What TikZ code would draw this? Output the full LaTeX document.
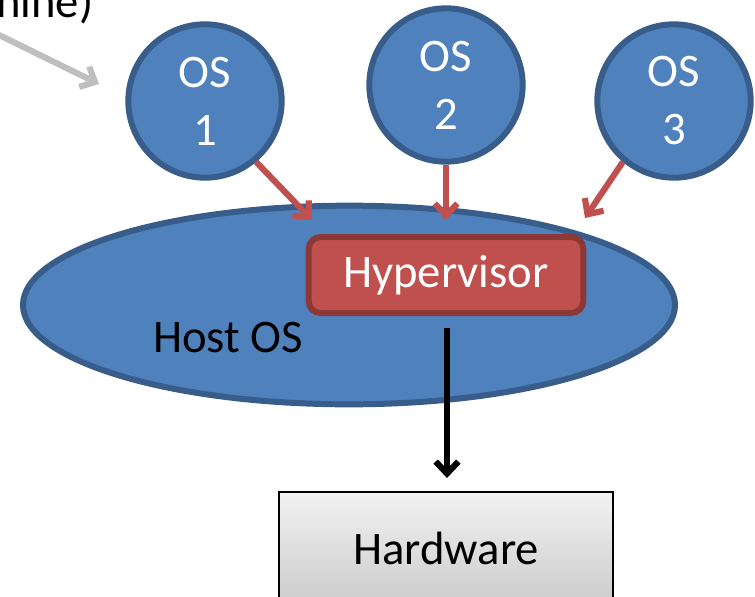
\documentclass[tikz,border=0pt]{standalone}
\usepackage{fontspec}
\setmainfont{Carlito}
\usetikzlibrary{arrows.meta,shapes.geometric}
\definecolor{osfill}{HTML}{4F81BD}
\definecolor{osdraw}{HTML}{385D8A}
\definecolor{hvfill}{HTML}{C0504D}
\definecolor{hvdraw}{HTML}{8C3836}
\definecolor{grayarr}{HTML}{BFBFBF}
\definecolor{hwtop}{HTML}{F2F2F2}
\definecolor{hwbot}{HTML}{BFBFBF}
\tikzset{
  big/.style={font=\fontsize{35}{43.5}\selectfont},
  osnode/.style={circle, fill=osfill, draw=osdraw, line width=4.5pt, minimum size=115pt, inner sep=0pt, text=white, align=center, big},
  tipbarb/.style={-{Straight Barb[length=9pt,width=17pt,line width=4.6pt]}},
  redarrow/.style={draw=hvfill, line width=4.6pt, tipbarb},
  blackarrow/.style={draw=black, line width=4.6pt, tipbarb},
  grayarrow/.style={draw=grayarr, line width=4.6pt, tipbarb},
}
\begin{document}
\begin{tikzpicture}[x=0.75pt,y=-0.75pt]
\useasboundingbox (0,0) rectangle (755,596);
\clip (0,0) rectangle (755,596);
% host OS ellipse
\node (host) [ellipse, fill=osfill, draw=osdraw, line width=4.5pt, minimum width=489pt, minimum height=149pt, inner sep=0pt] at (349,305) {};
\node (hostlabel) [big, text=black] at (228,338) {Host OS};
% hypervisor
\node (hyp) [rectangle, rounded corners=9pt, fill=hvfill, draw=hvdraw, line width=4.5pt, minimum width=206pt, minimum height=57pt, text=white, big] at (446,275) {Hypervisor};
% OS circles
\node (os1) [osnode] at (205,101) {OS\\1};
\node (os2) [osnode] at (446,85) {OS\\2};
\node (os3) [osnode] at (674,101) {OS\\3};
% hardware
\shade[top color=hwtop, bottom color=hwbot, draw=black, line width=2pt] (279,492) rectangle (613,640);
\node (hw) [big, text=black] at (446,548) {Hardware};
% top-left cut text
\node (vmtext) [big, text=black, anchor=base west, inner sep=0pt] at (-4,17) {hine)};
% coordinates
\coordinate (g0) at (-5,33);
\coordinate (g1) at (99,84);
\coordinate (a1) at (312,220);
\coordinate (a2) at (446,220);
\coordinate (a3) at (585,218);
\coordinate (b0) at (447,328);
\coordinate (b1) at (447,478);
% arrows
\draw[grayarrow] (g0) -- (g1);
\draw[redarrow] (os1.-50) -- (a1);
\draw[redarrow] (os2.south) -- (a2);
\draw[redarrow] (os3.-130) -- (a3);
\draw[blackarrow] (b0) -- (b1);
\end{tikzpicture}
\end{document}
